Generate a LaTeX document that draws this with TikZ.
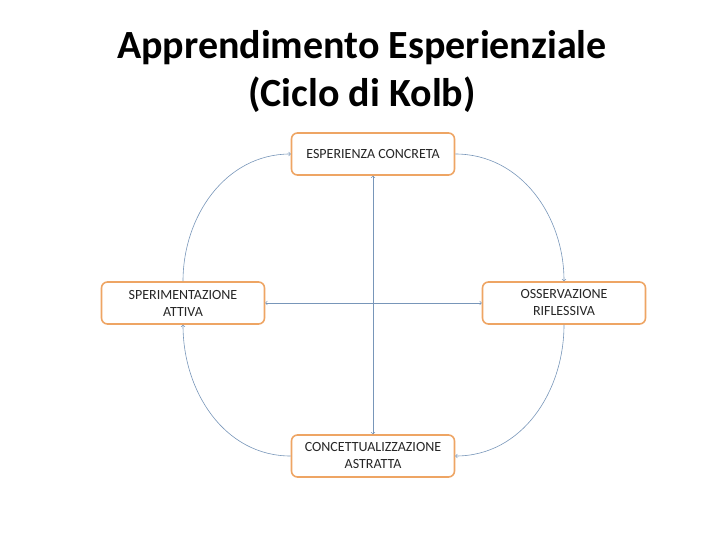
\documentclass[tikz,border=0pt]{standalone}
\usepackage{fontspec}
\setmainfont{Carlito}
\usepackage{tikz}
\usetikzlibrary{arrows,positioning}

\definecolor{boxorange}{RGB}{238,165,100}
\definecolor{linkblue}{RGB}{120,150,185}

\begin{document}
\begin{tikzpicture}[
  x=1pt, y=-1pt,
  box/.style={draw=boxorange, line width=1.6pt, rounded corners=6pt, fill=white,
    minimum width=163pt, minimum height=42pt, inner sep=2pt, align=center,
    font=\fontsize{14}{17}\selectfont, text=black!85},
  arrow/.style={->, >=to, linkblue, line width=0.6pt},
  dblarrow/.style={<->, >=to, linkblue, line width=0.6pt},
  titletext/.style={align=center, font=\fontsize{40}{48}\selectfont\bfseries}
]
\useasboundingbox (0,0) rectangle (720,540);

\node[titletext] (title) at (362,71) {Apprendimento Esperienziale\\(Ciclo di Kolb)};

\node[box] (ec) at (373,154) {ESPERIENZA CONCRETA};
\node[box] (sa) at (183,303) {SPERIMENTAZIONE\\ATTIVA};
\node[box] (or) at (564,303) {OSSERVAZIONE\\RIFLESSIVA};
\node[box] (ca) at (373,456) {CONCETTUALIZZAZIONE\\ASTRATTA};

% the cycle
\draw[arrow] (ec.east) to[out=0, in=90] (or.north);
\draw[arrow] (or.south) to[out=-90, in=0] (ca.east);
\draw[arrow] (ca.west) to[out=180, in=-90] (sa.south);
\draw[arrow] (sa.north) to[out=90, in=180] (ec.west);

% axes
\draw[dblarrow] (ec.south) -- (ca.north);
\draw[dblarrow] (sa.east) -- (or.west);
\end{tikzpicture}
\end{document}
